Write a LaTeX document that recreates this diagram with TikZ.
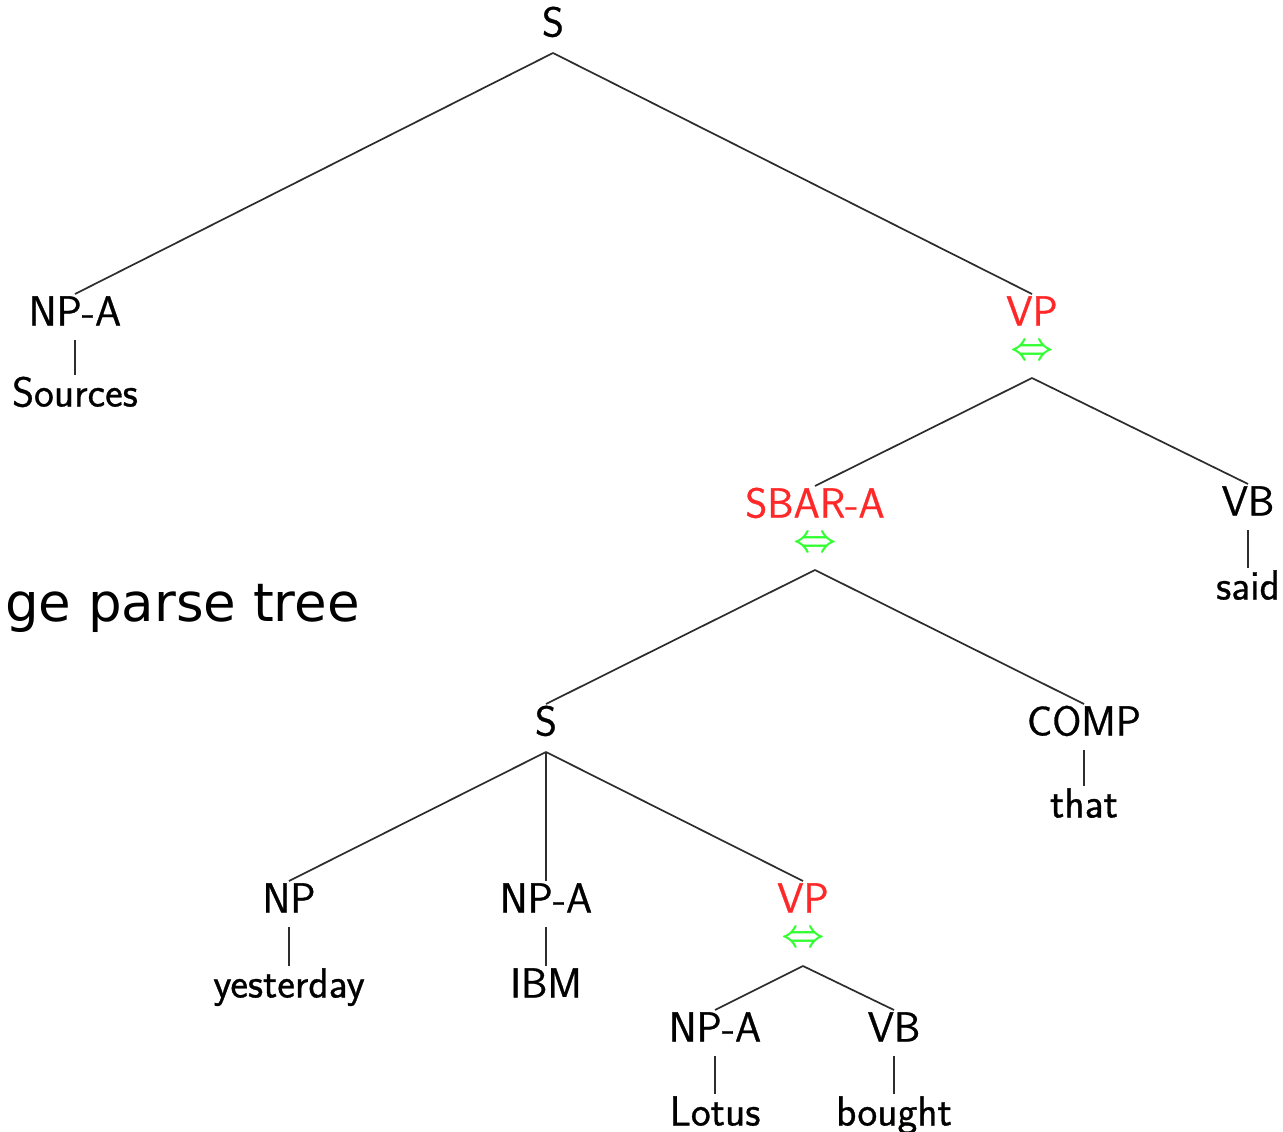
\RequirePackage{fix-cm}
\documentclass[tikz,border=0pt]{standalone}
\usepackage{fontspec}
\usepackage{bm}
\newfontfamily\djv{DejaVu Sans}
\newfontfamily\lms{Latin Modern Sans}[FakeBold=0.7]
\definecolor{catred}{RGB}{255,40,40}
\definecolor{arrgreen}{RGB}{50,255,50}
\definecolor{linegray}{RGB}{45,45,45}
\begin{document}
\begin{tikzpicture}[x=1pt,y=-1pt,
  lbl/.style={font=\fontsize{42}{44}\selectfont\lms, text=black, inner sep=0pt, text height=29pt, text depth=0pt, anchor=center},
  redlbl/.style={lbl, text=catred},
  arr/.style={inner sep=0pt, text=arrgreen, font=\fontsize{38}{40}\selectfont, text height=12pt, text depth=0pt, anchor=base},
  edge/.style={draw=linegray, line width=1.7pt}]
\useasboundingbox (0,0) rectangle (1283,1132);
\fill[white] (0,0) rectangle (1283,1132);

\node[lbl] (S0) at (553,22) {S};
\node[lbl] (NPA1) at (75,311) {NP-A};
\node[lbl] (Sources) at (75,392) {Sources};
\node[redlbl] (VP1) at (1032,311) {VP};
\node[arr] (A1) at (1032,359.5) {$\bm{\Leftrightarrow}$};
\node[redlbl] (SBAR) at (815,503) {SBAR-A};
\node[arr] (A2) at (815,551.5) {$\bm{\Leftrightarrow}$};
\node[lbl] (VB1) at (1248,501) {VB};
\node[lbl] (said) at (1248,585) {said};
\node[lbl] (S2) at (546,721) {S};
\node[lbl] (COMP) at (1084,721) {COMP};
\node[lbl] (that) at (1084,803) {that};
\node[lbl] (NP) at (289,898) {NP};
\node[lbl] (yest) at (289,983) {yesterday};
\node[lbl] (NPA2) at (546,898) {NP-A};
\node[lbl] (IBM) at (546,983) {IBM};
\node[redlbl] (VP2) at (803,898) {VP};
\node[arr] (A3) at (803,946.5) {$\bm{\Leftrightarrow}$};
\node[lbl] (NPA3) at (715,1027) {NP-A};
\node[lbl] (Lotus) at (715,1111) {Lotus};
\node[lbl] (VB2) at (894,1027) {VB};
\node[lbl] (bought) at (894,1111) {bought};

\node[anchor=base east, inner sep=0pt, font=\fontsize{53}{56}\selectfont\djv] (title) at (360,621) {ge parse tree};

\draw[edge] ([yshift=-31pt]S0.center) -- ([yshift=17pt]NPA1.center);
\draw[edge] ([yshift=-31pt]S0.center) -- ([yshift=17pt]VP1.center);
\draw[edge] ([yshift=-29pt]NPA1.center) -- ([yshift=17pt]Sources.center);
\draw[edge] ([yshift=-18.5pt]A1.base) -- ([yshift=17pt]SBAR.center);
\draw[edge] ([yshift=-18.5pt]A1.base) -- ([yshift=17pt]VB1.center);
\draw[edge] ([yshift=-29pt]VB1.center) -- ([yshift=17pt]said.center);
\draw[edge] ([yshift=-18.5pt]A2.base) -- ([yshift=17pt]S2.center);
\draw[edge] ([yshift=-18.5pt]A2.base) -- ([yshift=17pt]COMP.center);
\draw[edge] ([yshift=-29pt]COMP.center) -- ([yshift=17pt]that.center);
\draw[edge] ([yshift=-31pt]S2.center) -- ([yshift=17pt]NP.center);
\draw[edge] ([yshift=-31pt]S2.center) -- ([yshift=17pt]NPA2.center);
\draw[edge] ([yshift=-31pt]S2.center) -- ([yshift=17pt]VP2.center);
\draw[edge] ([yshift=-29pt]NP.center) -- ([yshift=17pt]yest.center);
\draw[edge] ([yshift=-29pt]NPA2.center) -- ([yshift=17pt]IBM.center);
\draw[edge] ([yshift=-19.5pt]A3.base) -- ([yshift=17pt]NPA3.center);
\draw[edge] ([yshift=-19.5pt]A3.base) -- ([yshift=17pt]VB2.center);
\draw[edge] ([yshift=-29pt]NPA3.center) -- ([yshift=17pt]Lotus.center);
\draw[edge] ([yshift=-29pt]VB2.center) -- ([yshift=17pt]bought.center);
\end{tikzpicture}
\end{document}
